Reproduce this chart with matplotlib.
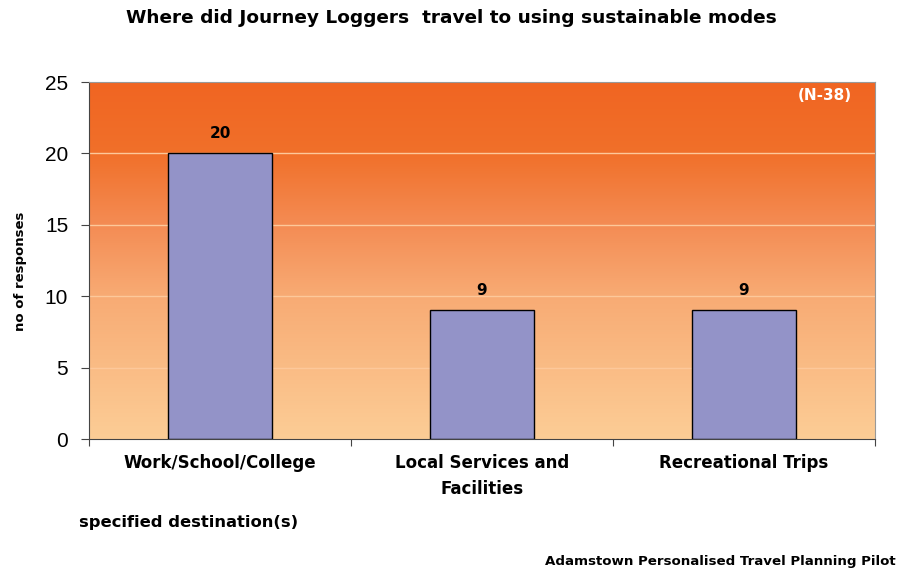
import numpy as np
import matplotlib
matplotlib.use('Agg')
import matplotlib.pyplot as plt
from matplotlib.colors import LinearSegmentedColormap

plt.rcParams['font.family'] = ['DejaVu Sans']

# data
categories = ['Work/School/College', 'Local Services and\nFacilities', 'Recreational Trips']
responses = [20, 9, 9]
y_ticks = [0, 5, 10, 15, 20, 25]

fig = plt.figure(figsize=(8.98, 5.72), dpi=100)
ax = fig.add_axes([0.0991, 0.2325, 0.8753, 0.6241])

# orange gradient background (pale at bottom, dark orange at top)
cmap = LinearSegmentedColormap.from_list(
    'bg', [(0.0, '#fccd96'), (0.4, '#f8ab74'), (0.6, '#f48c54'),
           (0.8, '#f1702a'), (1.0, '#f06522')])
grad = np.linspace(0, 1, 256).reshape(-1, 1)
ax.imshow(grad, cmap=cmap, origin='lower', aspect='auto',
          extent=[-0.5, 2.5, 0, 25], zorder=0)

for y in y_ticks[1:-1]:
    ax.axhline(y, color='#fdc89a', lw=1.0, zorder=1)

x = np.arange(len(categories))
bars = ax.bar(x, responses, width=0.4, color='#9393c8', edgecolor='black',
              linewidth=1.0, zorder=2)
for b, v in zip(bars, responses):
    ax.text(b.get_x() + b.get_width() / 2, v + 0.9, str(v), ha='center',
            va='bottom', fontsize=11, fontweight='bold', zorder=3)

ax.set_xlim(-0.5, 2.5)
ax.set_ylim(0, 25)
ax.set_yticks(y_ticks)
ax.set_yticklabels([str(t) for t in y_ticks])
ax.set_xticks([-0.5, 0.5, 1.5, 2.5])
ax.set_xticklabels([])
ax.set_xticks(x, minor=True)
ax.set_xticklabels(categories, minor=True, fontsize=12, fontweight='bold',
                   linespacing=1.55)
ax.tick_params(axis='x', which='minor', length=0, pad=11)
ax.tick_params(axis='x', which='major', length=5, direction='out', color='#444444')
ax.tick_params(axis='y', length=6, direction='out', color='#444444', pad=9)
for lbl in ax.get_yticklabels():
    lbl.set_fontfamily('Liberation Sans')
    lbl.set_fontsize(15)

for s in ['top', 'right']:
    ax.spines[s].set_color('#999999')
for s in ['left', 'bottom']:
    ax.spines[s].set_color('#444444')

fig.text(0.023, 1 - 271 / 572, 'no of responses', rotation=90, ha='center',
         va='center', fontsize=9.5, fontweight='bold')

ax.text(0.971, 0.984, '(N-38)', transform=ax.transAxes, ha='right', va='top',
        color='white', fontsize=11, fontweight='bold')

fig.text(0.503, 0.968, 'Where did Journey Loggers  travel to using sustainable modes',
         ha='center', va='center', fontsize=13.3, fontweight='bold')
fig.text(0.088, 0.086, 'specified destination(s)', ha='left', va='center',
         fontsize=11.8, fontweight='bold')
fig.text(0.997, 0.018, 'Adamstown Personalised Travel Planning Pilot', ha='right',
         va='center', fontsize=9.6, fontweight='bold')

fig.savefig('out.png', dpi=100)
